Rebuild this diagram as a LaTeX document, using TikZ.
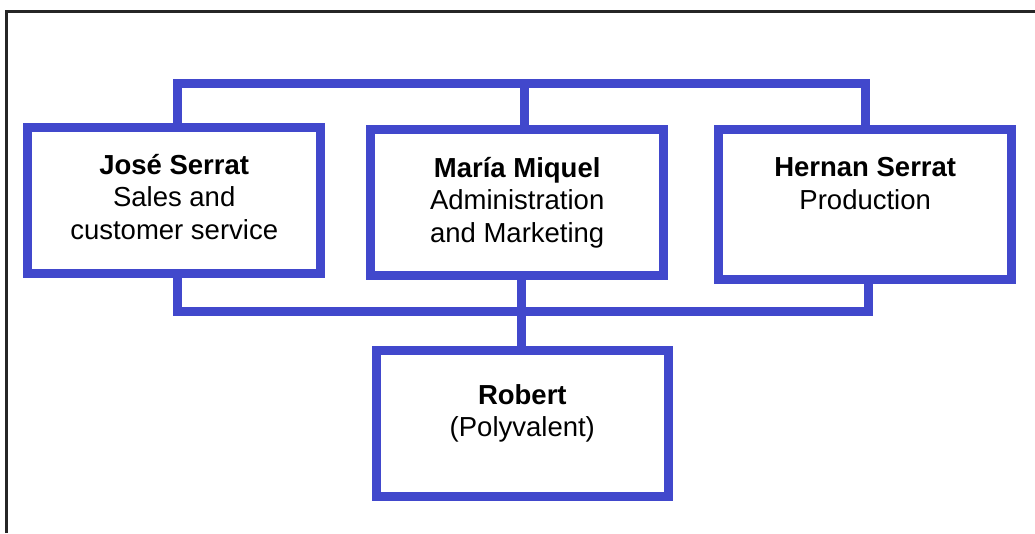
\documentclass[tikz,border=0pt]{standalone}
\usepackage{fontspec}
\setmainfont{Liberation Sans}
\definecolor{boxblue}{RGB}{65,72,204}

\begin{document}
\begin{tikzpicture}[x=1pt,y=-1pt,
        person/.style={draw=boxblue, line width=9pt, minimum width=292.5pt, minimum height=146pt,
            inner sep=0pt, align=center, font=\fontsize{27.5}{32.5}\selectfont, text height=80pt},
        link/.style={draw=boxblue, line width=9pt}]
        \useasboundingbox (0,0) rectangle (1035,533);

        % Frame (cut at right and bottom)
        \draw[line width=2.5pt, black!85] (6.7,533) -- (6.7,11.3) -- (1035,11.3);

        % Boxes
        \node[person, text depth=3pt] (jose) at (174.2,200.5) {\textbf{José Serrat}\\Sales and\\customer service};
        \node[person, text depth=1.4pt] (maria) at (517.2,202.7) {\textbf{María Miquel}\\Administration\\and Marketing};
        \node[person, text depth=70pt] (hernan) at (865.2,204) {\textbf{Hernan Serrat}\\Production};
        \node[person, text depth=52.6pt] (robert) at (522.3,423) {\textbf{Robert}\\(Polyvalent)};

        % Top bar
        \coordinate (topbar) at (524.5,83.3);
        \draw[link] ([xshift=3.75pt]jose.north) |- (topbar) -| (hernan.north);
        \draw[link] (topbar) -- (topbar |- maria.north);

        % Bottom bar
        \coordinate (botbar) at (521,311);
        \draw[link] ([xshift=3.75pt]jose.south) |- (botbar) -| ([xshift=3.25pt]hernan.south);
        \draw[link] (botbar |- maria.south) -- (botbar |- robert.north); % down to Robert
    \end{tikzpicture}
\end{document}
